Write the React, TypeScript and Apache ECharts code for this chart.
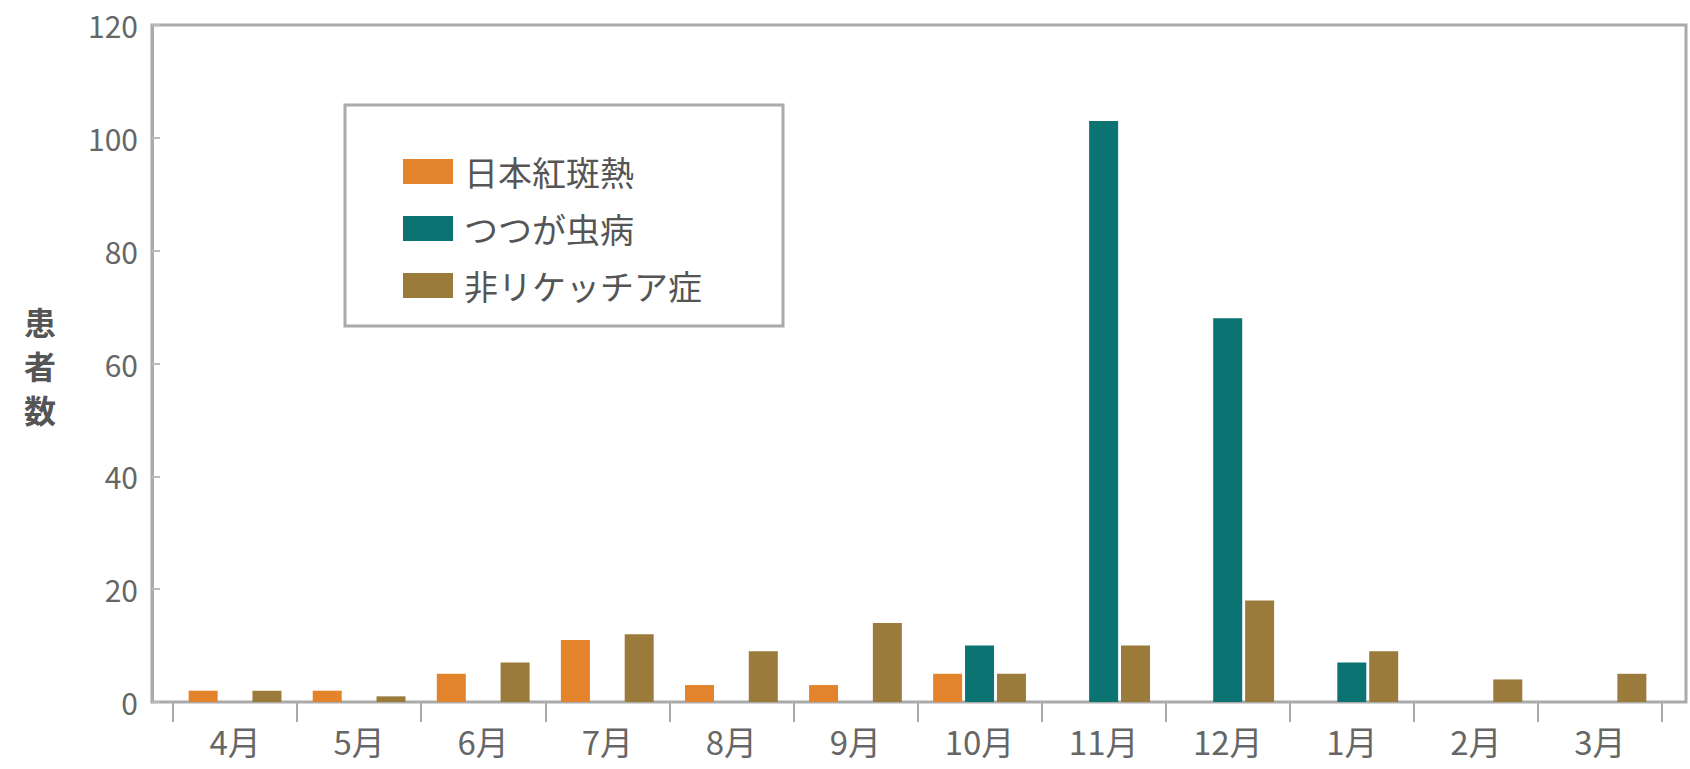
import React, { useEffect, useRef } from "react";
import * as echarts from "echarts";

const months = ["4月", "5月", "6月", "7月", "8月", "9月", "10月", "11月", "12月", "1月", "2月", "3月"];
const seriesNames = ["日本紅斑熱", "つつが虫病", "非リケッチア症"];
const japaneseSpottedFever = [2, 2, 5, 11, 3, 3, 5, 0, 0, 0, 0, 0];
const tsutsugamushi = [0, 0, 0, 0, 0, 0, 10, 103, 68, 7, 0, 0];
const nonRickettsia = [2, 1, 7, 12, 9, 14, 5, 10, 18, 9, 4, 5];
const seriesColors = ["#E3832B", "#0B7371", "#9A7B3B"];
const yTitle = "患者数";

const FONT = "'Noto Sans CJK JP', 'Noto Sans', sans-serif";

export default function App() {
  const ref = useRef<HTMLDivElement>(null);
  useEffect(() => {
    if (!ref.current) return;
    const chart = echarts.init(ref.current, null, { renderer: "svg" });
    const values = [japaneseSpottedFever, tsutsugamushi, nonRickettsia];
    const titleChars = yTitle.split("");
    const titlePitch = 44;
    const titleCenter = 365;
    chart.setOption({
      animation: false,
      backgroundColor: "#ffffff",
      textStyle: { fontFamily: FONT },
      grid: [
        {
          left: 152,
          right: 4,
          top: 25,
          bottom: 67,
          show: true,
          borderColor: "#aaaaaa",
          borderWidth: 3,
          backgroundColor: "transparent",
        },
        { left: 173, right: 28, top: 25, bottom: 67 },
      ],
      xAxis: [
        {
          type: "category",
          gridIndex: 0,
          data: months,
          show: false,
        },
        {
          type: "category",
          gridIndex: 1,
          data: months,
          axisLine: { show: false },
          axisTick: {
            show: true,
            alignWithLabel: false,
            length: 20,
            lineStyle: { color: "#aaaaaa", width: 2 },
          },
          axisLabel: {
            color: "#666666",
            fontSize: 33,
            fontFamily: FONT,
            margin: 22,
          },
        },
      ],
      yAxis: [
        {
          type: "value",
          gridIndex: 0,
          min: 0,
          max: 120,
          interval: 20,
          axisLine: { show: true, lineStyle: { color: "#aaaaaa", width: 3 } },
          axisTick: { show: true, inside: true, length: 8, lineStyle: { color: "#bbbbbb", width: 2 } },
          splitLine: { show: false },
          axisLabel: { color: "#666666", fontSize: 30, fontFamily: FONT, margin: 14 },
        },
        {
          type: "value",
          gridIndex: 1,
          min: 0,
          max: 120,
          interval: 20,
          show: false,
          splitLine: { show: false },
        },
      ],
      legend: {
        show: true,
        orient: "vertical",
        left: 398,
        top: 149,
        itemWidth: 50,
        itemHeight: 25,
        itemGap: 22,
        icon: "rect",
        z: 10,
        data: seriesNames,
        textStyle: { color: "#555555", fontSize: 34, fontFamily: FONT, lineHeight: 35, padding: [0, 0, 0, 6] },
      },
      graphic: [
        {
          type: "rect",
          z: 5,
          shape: { x: 345, y: 105, width: 438, height: 221 },
          style: { fill: "#ffffff", stroke: "#aaaaaa", lineWidth: 3 },
        },
        ...titleChars.map((ch, i) => ({
          type: "text",
          z: 5,
          x: 40,
          y: titleCenter + (i - (titleChars.length - 1) / 2) * titlePitch,
          style: {
            text: ch,
            fontSize: 32,
            fontWeight: "bold",
            fontFamily: FONT,
            fill: "#555555",
            align: "center",
            verticalAlign: "middle",
          },
        })),
      ],
      series: seriesNames.map((name, i) => ({
        name,
        type: "bar",
        xAxisIndex: 1,
        yAxisIndex: 1,
        data: values[i],
        barWidth: 29,
        barGap: "10%",
        itemStyle: { color: seriesColors[i] },
      })),
    });
    return () => chart.dispose();
  }, []);
  return (
    <div
      ref={ref}
      style={{ position: "absolute", left: 0, top: 0, width: 1690, height: 769 }}
    />
  );
}
